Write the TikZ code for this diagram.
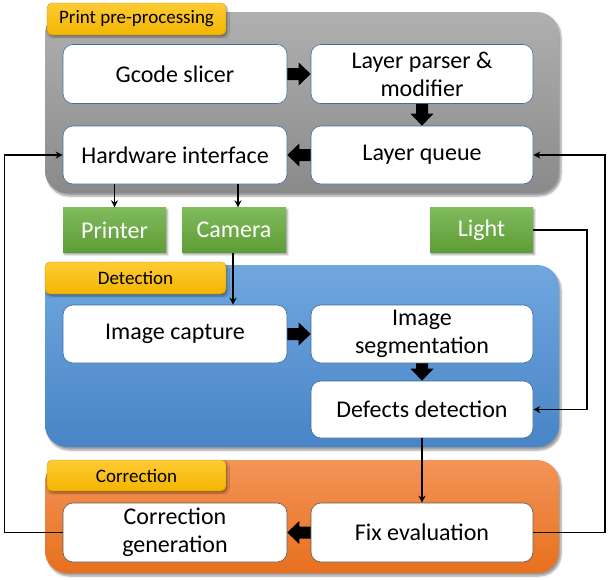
\documentclass[tikz,border=0pt]{standalone}
\usepackage{fontspec}
\setmainfont{Carlito}
\usetikzlibrary{arrows.meta,shadows.blur,calc}
\definecolor{grayT}{HTML}{B0B0B0}
\definecolor{grayB}{HTML}{8A8A8A}
\definecolor{blueT}{HTML}{70A7DE}
\definecolor{blueB}{HTML}{4884C7}
\definecolor{orT}{HTML}{F39458}
\definecolor{orB}{HTML}{E7701D}
\definecolor{grT}{HTML}{80BB5C}
\definecolor{grB}{HTML}{5E9C36}
\definecolor{ylT}{HTML}{FFCB35}
\definecolor{ylB}{HTML}{F2B500}
\definecolor{bdBlue}{HTML}{3F6FA8}
\definecolor{bdGray}{HTML}{5A5A5A}
\tikzset{
  panel/.style={rounded corners=22pt, blur shadow={shadow xshift=2pt, shadow yshift=-3pt, shadow blur steps=6}},
  tag/.style={rounded corners=5pt, top color=ylT, bottom color=ylB, draw=ylB!80!black, line width=0.3pt,
     blur shadow={shadow xshift=1.5pt, shadow yshift=-2pt, shadow blur steps=4}, font=\fontsize{19}{22}\selectfont},
  wbox/.style={draw=bdBlue, line width=0.6pt, fill=white, rounded corners=10pt, minimum width=223pt, minimum height=58pt,
     align=center, inner sep=2pt, font=\fontsize{24}{28}\selectfont},
  gbox/.style={top color=grT, bottom color=grB, minimum width=103pt, minimum height=45pt, inner sep=0pt,
     text=white, font=\fontsize{24}{28}\selectfont, blur shadow={shadow xshift=1.5pt, shadow yshift=-2pt, shadow blur steps=4}},
  thin/.style={line width=1.4pt, -{Stealth[length=7pt,width=7pt]}}
}
% fat block arrow from #1 to #2
\newcommand\fatarr[2]{%
  \coordinate (fa0) at (#1); \coordinate (fa1) at (#2);
  \coordinate (fan) at ($(fa1)!12pt!(fa0)$);
  \fill ($(fa0)!6pt!90:(fa1)$) -- ($(fan)!6pt!-90:(fa0)$) -- ($(fan)!11.5pt!-90:(fa0)$) -- (fa1)
     -- ($(fan)!11.5pt!90:(fa0)$) -- ($(fan)!6pt!90:(fa0)$) -- ($(fa0)!6pt!-90:(fa1)$) -- cycle;}
\begin{document}
\begin{tikzpicture}[x=1pt,y=-1pt]
\useasboundingbox (0,0) rectangle (608,579);
% panels
\path[panel, top color=grayT, bottom color=grayB] (45,12) rectangle (559,193);
\path[panel, top color=blueT, bottom color=blueB] (45,265) rectangle (559,447);
\path[panel, top color=orT, bottom color=orB] (45,460) rectangle (559,573);
% tags
\node[tag, minimum width=179pt, minimum height=32pt] (t1) at (136.5,19) {Print pre-processing};
\node[tag, minimum width=181pt, minimum height=32pt] (t2) at (135.5,278) {Detection};
\node[tag, minimum width=179pt, minimum height=31pt] (t3) at (136.5,475.5) {Correction};
% boxes
\node[wbox, minimum width=224pt, minimum height=59pt] (gcode) at (175,74) {Gcode slicer};
\node[wbox, minimum width=222pt, minimum height=59pt] (parser) at (422,74) {Layer parser \&\\modifier};
\node[wbox, minimum width=224pt] (hw) at (175,155) {Hardware interface};
\node[wbox, minimum width=222pt] (queue) at (422,155) {Layer queue};
\node[gbox] (printer) at (114.5,230) {Printer};
\node[gbox, minimum width=104pt] (camera) at (234,230) {Camera};
\node[gbox] (light) at (481.5,230) {Light};
\node[wbox, draw=blueB!80!black, minimum width=224pt] (cap) at (175,334) {Image capture};
\node[wbox, draw=blueB!80!black, minimum width=222pt] (seg) at (422,334) {Image\\segmentation};
\node[wbox, draw=blueB!80!black, minimum width=222pt, minimum height=57pt] (def) at (422,409.5) {Defects detection};
\node[wbox, draw=bdGray, minimum width=224pt, minimum height=59pt] (corr) at (175,532.5) {Correction\\generation};
\node[wbox, draw=bdGray, minimum width=222pt, minimum height=59pt] (fix) at (422,532.5) {Fix evaluation};
% fat arrows
\fatarr{gcode.east}{parser.west}
\fatarr{parser.south}{queue.north}
\fatarr{queue.west}{hw.east}
\fatarr{cap.east}{seg.west}
\fatarr{seg.south}{def.north}
\fatarr{fix.west}{corr.east}
% thin connectors
\draw[thin] (printer.north |- hw.south) -- (printer.north);
\draw[thin] ([xshift=4pt]camera.north |- hw.south) -- ([xshift=4pt]camera.north);
\draw[thin] ([xshift=-1pt]camera.south) -- ([xshift=-1pt]camera.south |- cap.north);
\draw[thin] (def.south) -- (def.south |- fix.north);
\coordinate (lr) at (587,230);
\draw[thin] (light.east) -- (lr) |- (def.east);
\coordinate (rr) at (605,532.5);
\draw[thin] (fix.east) -- (rr) |- (queue.east);
\coordinate (ll) at (4.5,532.5);
\draw[thin] (corr.west) -- (ll) |- (hw.west);
\end{tikzpicture}
\end{document}
